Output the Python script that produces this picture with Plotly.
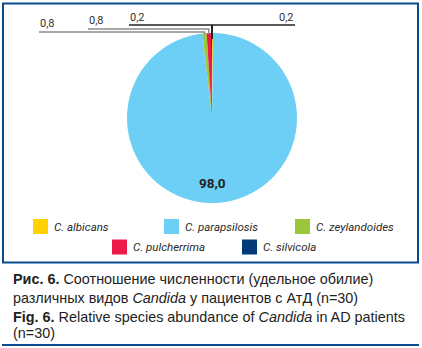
import math
import plotly.graph_objects as go

# ---- data ----
species = ["C. albicans", "C. parapsilosis", "C. zeylandoides", "C. pulcherrima", "C. silvicola"]
values = [0.2, 98.0, 0.8, 0.8, 0.2]
colors = ["#FFD200", "#6DCFF6", "#9DC73B", "#EC1A4B", "#003A78"]

caption_lines = [
    "<b>Рис. 6.</b> Соотношение численности (удельное обилие)",
    "различных видов <i>Candida</i> у пациентов с АтД (n=30)",
    "<b>Fig. 6.</b> Relative species abundance of <i>Candida</i> in AD patients",
    "(n=30)",
]

W, H = 422, 348
def px(x):
    return x / W
def py(y):
    return 1 - y / H

def fmt(v):
    return f"{v:.1f}".replace(".", ",")

# pie geometry (layout)
CX, CY, R = 212, 118, 85

fig = go.Figure()
fig.add_trace(go.Pie(
    labels=species, values=values, sort=False, direction="clockwise", rotation=0,
    marker=dict(colors=colors, line=dict(width=0)),
    textinfo="none", hoverinfo="label+value", showlegend=False,
    domain=dict(x=[px(CX - R), px(CX + R)], y=[py(CY + R), py(CY - R)]),
))

# slice mid-angles computed from data (clockwise from 12 o'clock)
total = sum(values)
mids = []
acc = 0.0
for v in values:
    a0 = acc / total * 360
    acc += v
    a1 = acc / total * 360
    mids.append((a0 + a1) / 2)

def edge_point(deg, frac=1.0):
    t = math.radians(deg)
    return CX + frac * R * math.sin(t), CY - frac * R * math.cos(t)

shapes = []
annotations = []

# outer frame and bottom rule
frame_col = "#0B4A8C"
shapes.append(dict(type="rect", xref="paper", yref="paper", x0=px(3), x1=px(418), y0=py(262.5), y1=py(3.5),
                   line=dict(color=frame_col, width=2)))
shapes.append(dict(type="line", xref="paper", yref="paper", x0=px(2), x1=px(419), y0=py(345), y1=py(345),
                   line=dict(color=frame_col, width=2)))

NARROW = "Roboto, Liberation Sans, sans-serif"
lab_font = dict(family=NARROW, size=11, color="#333333")

def leader(idx, x_lab, y_line, color, width, anchor="left"):
    ex, ey = edge_point(mids[idx])
    shapes.append(dict(type="path", xref="paper", yref="paper",
                       path=f"M {px(x_lab)} {py(y_line)} L {px(ex)} {py(y_line)} L {px(ex)} {py(ey + 1)}",
                       line=dict(color=color, width=width)))
    annotations.append(dict(xref="paper", yref="paper", x=px(x_lab - 1), y=py(y_line + 0.5), text=fmt(values[idx]),
                            showarrow=False, xanchor=anchor, yanchor="bottom", font=lab_font))

# zeylandoides (idx 2), pulcherrima (idx 3)
leader(2, 39, 32, "#8C8C8C", 1.5)
leader(3, 88, 29, "#8C8C8C", 1.5)
# black line shared by silvicola (idx 4) and albicans (idx 0)
ex4, ey4 = edge_point(mids[4])
ex0, ey0 = edge_point(mids[0])
shapes.append(dict(type="line", xref="paper", yref="paper", x0=px(129), x1=px(295), y0=py(25), y1=py(25),
                   line=dict(color="#222222", width=1.5)))
shapes.append(dict(type="line", xref="paper", yref="paper", x0=px((ex4 + ex0) / 2), x1=px((ex4 + ex0) / 2),
                   y0=py(25), y1=py(ey4 + 6), line=dict(color="#222222", width=2)))
annotations.append(dict(xref="paper", yref="paper", x=px(128), y=py(25.5), text=fmt(values[4]),
                        showarrow=False, xanchor="left", yanchor="bottom", font=lab_font))
annotations.append(dict(xref="paper", yref="paper", x=px(296), y=py(25.5), text=fmt(values[0]),
                        showarrow=False, xanchor="right", yanchor="bottom", font=lab_font))

# big slice label
bx, by = edge_point(mids[1], 0.76)
annotations.append(dict(xref="paper", yref="paper", x=px(CX), y=py(by), text=f"<b>{fmt(values[1])}</b>",
                        showarrow=False, xanchor="center", yanchor="middle",
                        font=dict(family=NARROW, size=13.5, color="#222222")))

# manual legend
legend_pos = [(33, 226.5), (164, 226.5), (295, 226.5), (112, 247), (242, 247)]
for name, col, (lx, ly) in zip(species, colors, legend_pos):
    shapes.append(dict(type="rect", xref="paper", yref="paper", x0=px(lx), x1=px(lx + 15),
                       y0=py(ly + 7.5), y1=py(ly - 7.5), fillcolor=col, line=dict(width=0)))
    annotations.append(dict(xref="paper", yref="paper", x=px(lx + 19), y=py(ly), text=f"<i>{name}</i>",
                            showarrow=False, xanchor="left", yanchor="middle",
                            font=dict(family=NARROW, size=11.5, color="#2A2A2A")))

# caption
cap_font = dict(family="Liberation Sans, Arial, sans-serif", size=14.4, color="#222222")
cap_y = [279, 297.5, 317, 333]
for txt, yy in zip(caption_lines, cap_y):
    annotations.append(dict(xref="paper", yref="paper", x=px(11), y=py(yy), text=txt, showarrow=False,
                            xanchor="left", yanchor="middle", font=cap_font))

fig.update_layout(
    width=W, height=H, margin=dict(l=0, r=0, t=0, b=0),
    paper_bgcolor="white", plot_bgcolor="white",
    shapes=shapes, annotations=annotations, showlegend=False,
)
fig.write_html("out.html")
